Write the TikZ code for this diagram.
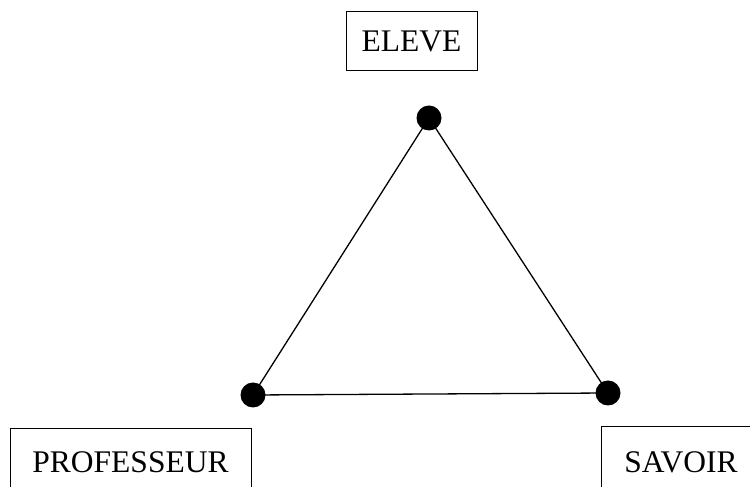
\documentclass[tikz,border=0pt]{standalone}
\usepackage{fontspec}
\setmainfont{Liberation Serif}
\begin{document}
\begin{tikzpicture}[x=1pt,y=1pt,
  lbl/.style={draw=black,line width=1pt,inner sep=0pt,font=\fontsize{31.5}{36}\selectfont},
  dot/.style={circle,fill=black,inner sep=0pt,minimum size=25pt},
  edge/.style={line width=1.3pt}]
\useasboundingbox (0,0) rectangle (750,487);
\clip (0,0) rectangle (750,487);
\node[lbl,minimum width=131pt,minimum height=59pt] (eleve) at (411.5,445.5) {ELEVE};
\node[lbl,minimum width=241pt,minimum height=67pt] (prof) at (130.5,24.5) {PROFESSEUR};
\node[lbl,minimum width=160pt,minimum height=70pt] (savoir) at (681,25) {SAVOIR};
\node[dot] (a) at (429,369) {};
\node[dot] (b) at (253,92) {};
\node[dot] (c) at (608,94) {};
\draw[edge] (a.center) -- (b.center) -- (c.center) -- (a.center);
\end{tikzpicture}
\end{document}
